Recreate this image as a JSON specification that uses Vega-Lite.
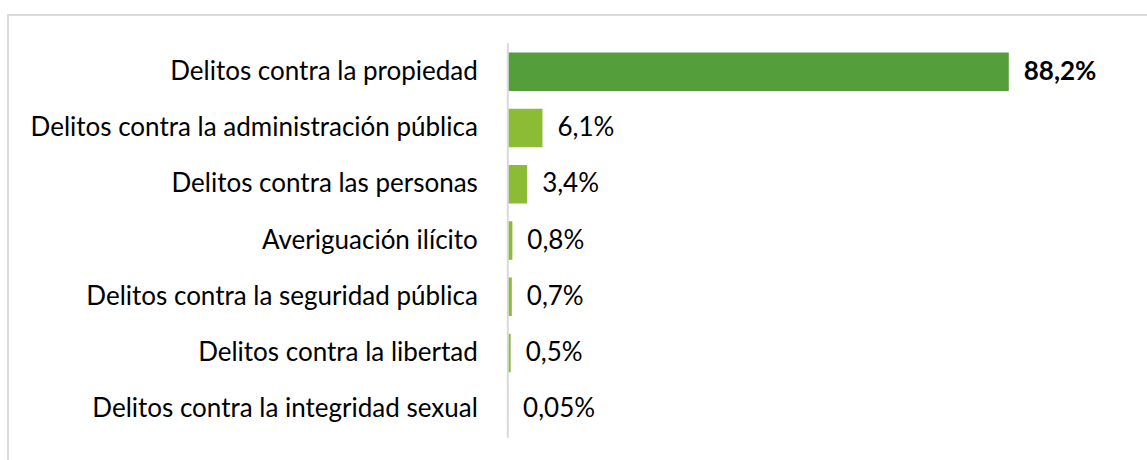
{
  "$schema": "https://vega.github.io/schema/vega-lite/v6.json",
  "width": 1153,
  "height": 451,
  "autosize": {"type": "none"},
  "padding": {"left": 8, "top": 15, "right": 0, "bottom": 0},
  "background": "white",
  "config": {"view": {"stroke": "#d9d9d9", "strokeWidth": 2}},
  "data": {"values": [
    {"cat": "Delitos contra la propiedad", "value": 88.2, "label": "88,2%"},
    {"cat": "Delitos contra la administración pública", "value": 6.1, "label": "6,1%"},
    {"cat": "Delitos contra las personas", "value": 3.4, "label": "3,4%"},
    {"cat": "Averiguación ilícito", "value": 0.8, "label": "0,8%"},
    {"cat": "Delitos contra la seguridad pública", "value": 0.7, "label": "0,7%"},
    {"cat": "Delitos contra la libertad", "value": 0.5, "label": "0,5%"},
    {"cat": "Delitos contra la integridad sexual", "value": 0.05, "label": "0,05%"}
  ]},
  "encoding": {
    "y": {"field": "cat", "type": "nominal", "sort": null, "axis": null,
      "scale": {"paddingInner": 0.315, "paddingOuter": 0.665}}
  },
  "layer": [
    {
      "mark": {"type": "bar"},
      "encoding": {
        "x": {"field": "value", "type": "quantitative", "axis": null,
          "scale": {"domain": [-88, 115], "nice": false, "zero": false}},
        "color": {"condition": {"test": "datum.value > 50", "value": "#559e3c"}, "value": "#8cbb35"}
      }
    },
    {
      "mark": {"type": "tick", "orient": "vertical", "size": 57, "thickness": 2, "color": "#d9d9d9", "opacity": 1},
      "encoding": {"x": {"datum": 0, "type": "quantitative"}}
    },
    {
      "mark": {"type": "text", "align": "right", "baseline": "middle", "dx": -30, "font": "Lato", "fontSize": 26, "color": "#000000"},
      "encoding": {"x": {"datum": 0, "type": "quantitative"}, "text": {"field": "cat"}}
    },
    {
      "transform": [{"filter": "datum.value <= 50"}],
      "mark": {"type": "text", "align": "left", "baseline": "middle", "dx": 15, "font": "Lato", "fontSize": 26, "color": "#000000"},
      "encoding": {
        "x": {"field": "value", "type": "quantitative"},
        "text": {"field": "label"}
      }
    },
    {
      "transform": [{"filter": "datum.value > 50"}],
      "mark": {"type": "text", "align": "left", "baseline": "middle", "dx": 15, "font": "Lato", "fontSize": 26, "fontWeight": "bold", "color": "#000000"},
      "encoding": {
        "x": {"field": "value", "type": "quantitative"},
        "text": {"field": "label"}
      }
    }
  ]
}
